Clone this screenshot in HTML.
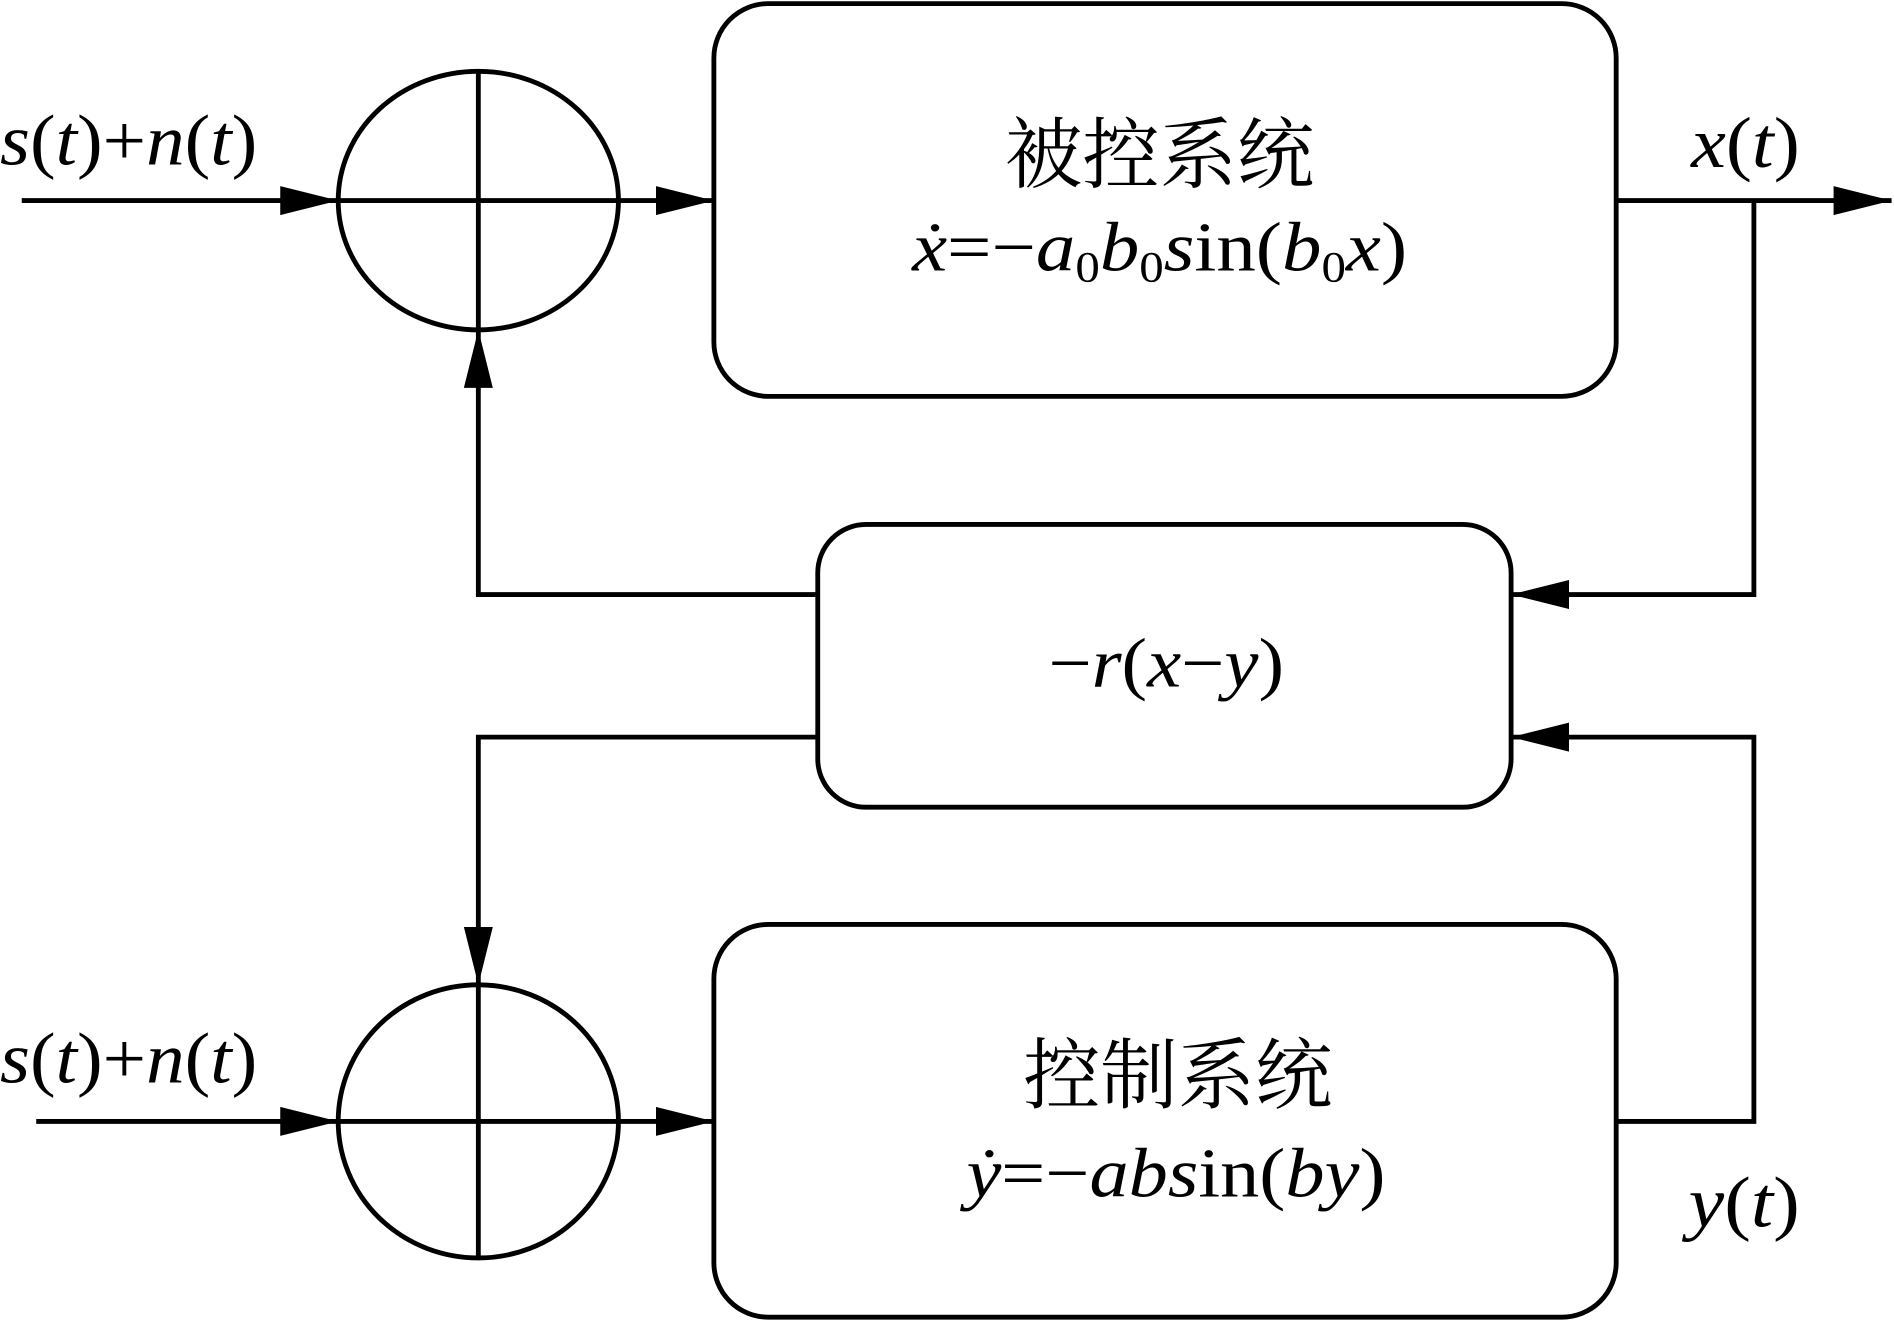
<!DOCTYPE html>
<html><head><meta charset="utf-8"><style>
html,body{margin:0;padding:0;background:#fff;}
svg{display:block;}
</style></head><body>
<svg width="1894" height="1322" viewBox="0 0 1568 1094" preserveAspectRatio="none" xmlns="http://www.w3.org/2000/svg">
<defs>
<marker id="a" markerWidth="48" markerHeight="24" refX="48" refY="12" orient="auto" markerUnits="userSpaceOnUse">
<path d="M0,0 L48,12 L0,24 Z" fill="#000"/>
</marker>
</defs>
<g fill="none" stroke="#000" stroke-width="4">
<ellipse cx="396" cy="166" rx="116" ry="107"/>
<line x1="396" y1="59" x2="396" y2="273"/>
<line x1="280" y1="166" x2="512" y2="166"/>
<ellipse cx="396" cy="928" rx="116" ry="113"/>
<line x1="396" y1="815" x2="396" y2="1041"/>
<line x1="280" y1="928" x2="512" y2="928"/>
<rect x="591" y="3" width="747" height="325" rx="45"/>
<rect x="677" y="434" width="574" height="234" rx="40"/>
<rect x="591" y="765" width="747" height="325" rx="45"/>
<line x1="18" y1="166" x2="280" y2="166" marker-end="url(#a)"/>
<line x1="512" y1="166" x2="591" y2="166" marker-end="url(#a)"/>
<line x1="1338" y1="166" x2="1566" y2="166" marker-end="url(#a)"/>
<polyline points="1452,166 1452,492 1251,492" marker-end="url(#a)"/>
<polyline points="1338,928 1452,928 1452,610 1251,610" marker-end="url(#a)"/>
<polyline points="677,492 396,492 396,273" marker-end="url(#a)"/>
<polyline points="677,610 396,610 396,815" marker-end="url(#a)"/>
<line x1="30" y1="928" x2="280" y2="928" marker-end="url(#a)"/>
<line x1="512" y1="928" x2="591" y2="928" marker-end="url(#a)"/>
</g>
<g font-family="'Liberation Serif','Times New Roman','Noto Serif CJK SC',serif" fill="#000">
<text x="0" y="136" font-size="60" textLength="213" lengthAdjust="spacingAndGlyphs"><tspan font-style="italic">s</tspan>(<tspan font-style="italic">t</tspan>)+<tspan font-style="italic">n</tspan>(<tspan font-style="italic">t</tspan>)</text>
<text x="0" y="896" font-size="60" textLength="213" lengthAdjust="spacingAndGlyphs"><tspan font-style="italic">s</tspan>(<tspan font-style="italic">t</tspan>)+<tspan font-style="italic">n</tspan>(<tspan font-style="italic">t</tspan>)</text>
<text x="1400" y="138" font-size="60" textLength="90" lengthAdjust="spacingAndGlyphs"><tspan font-style="italic">x</tspan>(<tspan font-style="italic">t</tspan>)</text>
<text x="1398" y="1015" font-size="60" textLength="92" lengthAdjust="spacingAndGlyphs"><tspan font-style="italic">y</tspan>(<tspan font-style="italic">t</tspan>)</text>
<text x="960" y="150" font-size="64" text-anchor="middle" font-family="'Noto Serif CJK SC',serif">被控系统</text>
<text x="755" y="224" font-size="58" textLength="410" lengthAdjust="spacingAndGlyphs"><tspan font-style="italic">ẋ</tspan>=−<tspan font-style="italic">a</tspan><tspan font-size="36" dy="9">0</tspan><tspan font-style="italic" dy="-9">b</tspan><tspan font-size="36" dy="9">0</tspan><tspan font-style="italic" dy="-9">s</tspan>in(<tspan font-style="italic">b</tspan><tspan font-size="36" dy="9">0</tspan><tspan font-style="italic" dy="-9">x</tspan>)</text>
<text x="868" y="568" font-size="58" textLength="195" lengthAdjust="spacingAndGlyphs">−<tspan font-style="italic">r</tspan>(<tspan font-style="italic">x</tspan>−<tspan font-style="italic">y</tspan>)</text>
<text x="975" y="912" font-size="64" text-anchor="middle" font-family="'Noto Serif CJK SC',serif">控制系统</text>
<text x="800" y="990" font-size="58" textLength="347" lengthAdjust="spacingAndGlyphs"><tspan font-style="italic">ẏ</tspan>=−<tspan font-style="italic">abs</tspan>in(<tspan font-style="italic">by</tspan>)</text>
</g>
</svg>
</body></html>
